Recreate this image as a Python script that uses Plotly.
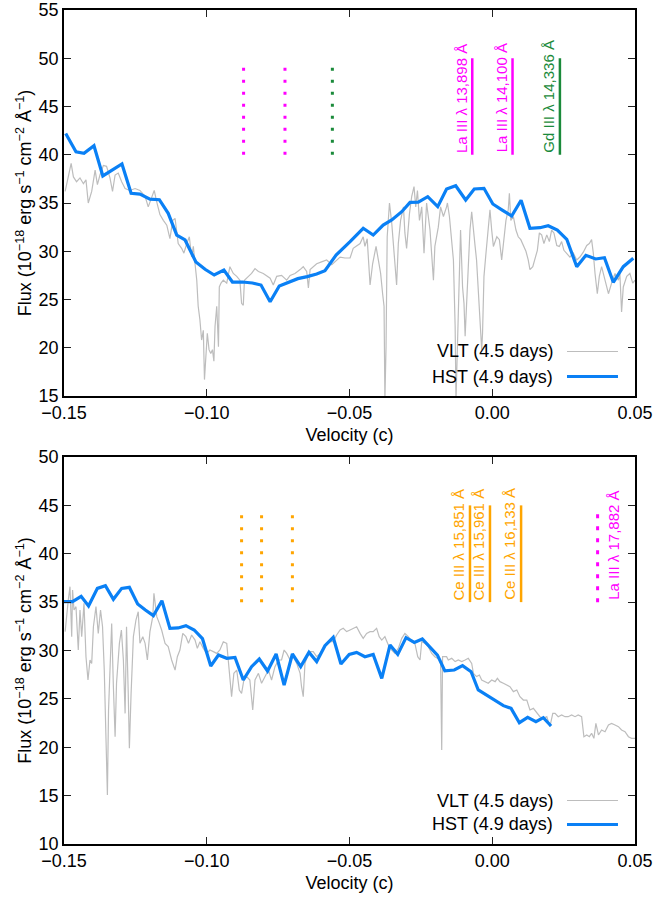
import plotly.graph_objects as go

# ---------------- Top panel data ----------------
vlt_top_v = [-0.1496,-0.1475,-0.1467,-0.1456,-0.1444,-0.1432,-0.1423,-0.1415,-0.1403,-0.1391,-0.1383,-0.1374,-0.1362,-0.1351,-0.1339,-0.1330,-0.1321,-0.1310,-0.1298,-0.1286,-0.1269,-0.1251,-0.1234,-0.1216,-0.1205,-0.1193,-0.1184,-0.1175,-0.1164,-0.1152,-0.1140,-0.1129,-0.1119,-0.1111,-0.1100,-0.1088,-0.1080,-0.1070,-0.1061,-0.1053,-0.1047,-0.1041,-0.1035,-0.1030,-0.1024,-0.1018,-0.1012,-0.1008,-0.1003,-0.0998,-0.0992,-0.0986,-0.0980,-0.0975,-0.0971,-0.0965,-0.0959,-0.0956,-0.0950,-0.0942,-0.0930,-0.0919,-0.0907,-0.0895,-0.0884,-0.0878,-0.0872,-0.0868,-0.0854,-0.0843,-0.0831,-0.0819,
             -0.0802,-0.0778,-0.0767,-0.0755,-0.0738,-0.0720,-0.0708,-0.0691,-0.0673,-0.0662,-0.0650,-0.0644,-0.0638,-0.0627,-0.0615,-0.0598,-0.0580,-0.0562,-0.0551,-0.0533,-0.0516,-0.0498,-0.0487,-0.0475,-0.0463,-0.0452,-0.0446,-0.0438,-0.0428,-0.0419,-0.0407,-0.0399,-0.0391,-0.0384,-0.0379,-0.0376,-0.0372,-0.0368,-0.0360,-0.0352,-0.0343,-0.0335,-0.0329,-0.0321,-0.0311,-0.0306,-0.0300,-0.0290,-0.0282,-0.0274,-0.0268,-0.0262,-0.0255,-0.0247,-0.0239,-0.0230,-0.0218,-0.0212,-0.0206,-0.0201,-0.0189,-0.0181,-0.0171,-0.0160,
             -0.0157,-0.0150,-0.0142,-0.0136,-0.0130,-0.0127,-0.0122,-0.0115,-0.0111,-0.0104,-0.0099,-0.0095,-0.0090,-0.0084,-0.0078,-0.0072,-0.0066,-0.0060,-0.0055,-0.0049,-0.0043,-0.0037,-0.0034,-0.0029,-0.0022,-0.0014,-0.0008,-0.0002,0.0004,0.0016,0.0025,0.0033,0.0039,0.0048,0.0056,0.0060,0.0065,0.0074,0.0083,0.0091,0.0100,0.0109,0.0118,0.0126,0.0132,0.0142,0.0150,0.0158,0.0165,0.0173,0.0181,0.0191,0.0200,0.0208,0.0216,0.0226,0.0235,0.0243,0.0251,0.0261,0.0272,0.0284,0.0296,0.0307,0.0319,0.0331,0.0340,0.0348,0.0354,0.0360,0.0368,0.0375,0.0383,0.0395,0.0407,0.0418,0.0430,0.0442,0.0447,0.0453,0.0459,0.0471,0.0482,0.0492,0.0500]
vlt_top_f = [36.2,39.1,37.7,37.2,37.6,37.0,37.4,35.0,36.2,38.4,36.9,37.9,38.9,38.8,37.6,36.2,37.9,38.1,37.2,36.5,36.3,36.5,36.3,35.7,34.6,35.7,36.3,35.1,33.8,33.2,32.7,31.3,33.2,33.4,30.8,30.3,29.8,30.8,31.5,29.4,30.5,28.7,27.0,24.3,22.9,20.8,21.8,16.7,19.4,21.5,19.8,19.4,19.8,18.6,22.2,24.3,20.1,26.3,26.7,27.0,26.7,28.4,27.7,27.4,27.0,24.6,24.4,27.0,27.4,27.7,28.2,27.9,
             27.7,27.2,26.5,27.4,27.5,27.0,27.5,27.7,28.1,28.4,27.9,26.2,28.1,28.4,28.7,28.9,29.1,28.6,28.9,29.4,29.3,29.3,30.3,30.6,30.8,31.5,30.5,31.3,26.5,28.7,30.5,29.1,27.7,25.6,24.3,14.6,20.1,31.5,35.0,32.9,29.1,26.5,30.8,33.2,34.6,31.9,30.3,33.9,35.7,36.7,34.6,36.3,33.2,34.6,29.8,35.0,32.2,29.1,27.0,30.5,32.5,34.6,33.6,34.6,
             35.0,33.6,30.5,29.1,22.2,14.6,20.1,29.8,32.2,26.3,24.6,21.2,24.3,29.1,32.2,34.1,31.9,30.5,29.1,26.3,22.9,19.8,21.5,27.4,29.8,32.2,34.3,32.2,30.5,31.5,31.2,29.1,30.8,33.2,34.3,36.0,33.2,33.6,32.2,31.5,31.2,30.5,30.0,29.1,28.1,28.4,29.4,30.1,31.9,31.7,30.8,31.7,31.0,32.2,31.9,30.6,30.5,31.0,30.1,29.8,29.4,29.8,29.1,29.4,29.9,30.6,30.8,31.2,29.8,27.7,25.6,27.4,28.4,27.0,25.6,26.7,27.7,27.0,27.7,23.7,26.3,27.4,27.7,26.7,27.0]

hst_top_v = [-0.1494,-0.1458,-0.1430,-0.1395,-0.1364,-0.1297,-0.1265,-0.1234,-0.1199,-0.1166,-0.1135,-0.1105,-0.1076,-0.1038,-0.1006,-0.0974,-0.0940,-0.0910,-0.0875,-0.0840,-0.0810,-0.0778,-0.0746,-0.0714,-0.0681,-0.0648,-0.0615,-0.0586,-0.0547,-0.0498,-0.0452,-0.0417,-0.0382,-0.0352,-0.0317,-0.0288,-0.0259,-0.0226,-0.0191,-0.0160,-0.0128,-0.0093,-0.0063,-0.0029,0.0002,0.0035,0.0068,0.0101,0.0132,0.0167,0.0196,0.0228,0.0261,0.0296,0.0328,0.0362,0.0393,0.0424,0.0459,0.0494]
hst_top_f = [42.2,40.3,40.15,40.94,37.8,39.04,36.0,35.93,35.4,35.34,33.93,31.68,31.17,28.89,28.13,27.54,28.06,26.81,26.81,26.71,26.5,24.77,26.4,26.74,27.16,27.37,27.64,27.98,29.6,30.99,32.38,31.68,32.72,33.24,34.1,35.07,35.1,35.65,34.62,36.45,36.79,35.31,36.45,36.52,34.9,34.27,33.65,35.28,32.38,32.44,32.65,32.2,31.24,28.4,29.58,29.2,29.33,26.78,28.4,29.27]

top_line_labels = ["La III λ 13,898 Å", "La III λ 14,100 Å", "Gd III λ 14,336 Å"]
top_line_v = [-0.0070, 0.0071, 0.0237]
top_line_abs_v = [-0.0871, -0.0726, -0.0560]
top_line_colors = ["#ff00ff", "#ff00ff", "#1a8a3a"]
top_line_range = [40, 50]
top_dot_range = [40, 49.5]

# ---------------- Bottom panel data ----------------
vlt_bot_v = [-0.1496,-0.1491,-0.1485,-0.1479,-0.1473,-0.1470,-0.1465,-0.1458,-0.1450,-0.1444,-0.1438,-0.1430,-0.1423,-0.1416,-0.1409,-0.1403,-0.1397,-0.1388,-0.1380,-0.1372,-0.1365,-0.1359,-0.1353,-0.1348,-0.1344,-0.1339,-0.1333,-0.1327,-0.1321,-0.1316,-0.1306,-0.1299,-0.1292,-0.1286,-0.1281,-0.1275,-0.1271,-0.1265,-0.1257,-0.1248,-0.1240,-0.1234,-0.1224,-0.1216,-0.1208,-0.1199,-0.1189,-0.1185,-0.1175,-0.1166,-0.1158,-0.1146,-0.1135,-0.1123,-0.1111,-0.1103,-0.1094,-0.1084,-0.1073,-0.1064,-0.1053,-0.1041,-0.1033,-0.1024,-0.1012,-0.1000,-0.0989,-0.0977,-0.0965,-0.0954,-0.0942,-0.0930,-0.0921,-0.0913,-0.0905,-0.0895,-0.0886,-0.0878,-0.0870,-0.0860,-0.0849,-0.0839,-0.0831,
             -0.0819,-0.0808,-0.0796,-0.0784,-0.0773,-0.0761,-0.0749,-0.0738,-0.0729,-0.0720,-0.0708,-0.0697,-0.0685,-0.0673,-0.0668,-0.0662,-0.0656,-0.0648,-0.0638,-0.0627,-0.0615,-0.0603,-0.0592,-0.0580,-0.0568,-0.0557,-0.0545,-0.0533,-0.0522,-0.0510,-0.0498,-0.0487,-0.0475,-0.0463,-0.0452,-0.0440,-0.0428,-0.0417,-0.0405,-0.0396,-0.0387,-0.0376,-0.0364,-0.0352,-0.0341,-0.0329,-0.0317,-0.0306,-0.0294,-0.0282,-0.0271,-0.0261,-0.0253,-0.0247,-0.0236,-0.0224,-0.0212,-0.0201,-0.0189,-0.0181,-0.0177,-0.0174,-0.0160,
             -0.0154,-0.0142,-0.0130,-0.0119,-0.0107,-0.0095,-0.0084,-0.0072,-0.0066,-0.0055,-0.0045,-0.0037,-0.0025,-0.0014,-0.0002,0.0010,0.0018,0.0027,0.0039,0.0050,0.0062,0.0074,0.0086,0.0097,0.0109,0.0121,0.0132,0.0144,0.0156,0.0167,0.0179,0.0191,0.0202,0.0212,0.0220,0.0231,0.0243,0.0255,0.0266,0.0278,0.0290,0.0301,0.0313,0.0321,0.0331,0.0340,0.0348,0.0356,0.0363,0.0372,0.0383,0.0395,0.0407,0.0418,0.0430,0.0442,0.0453,0.0465,0.0477,0.0488,0.0500]
vlt_bot_f = [31.95,33.84,35.22,36.6,31.43,36.25,34.19,34.53,30.05,34.19,31.43,34.87,29.36,26.95,29.02,28.67,32.46,34.53,31.77,34.19,32.46,27.98,22.13,15.07,23.85,27.98,32.8,26.26,21.09,26.61,30.74,32.12,29.02,23.5,32.46,25.57,19.89,25.57,31.43,33.15,34.01,30.74,31.43,30.74,29.02,31.95,33.5,35.91,33.5,32.8,32.12,30.74,30.4,29.02,27.98,29.36,30.05,31.77,31.43,30.74,31.6,31.08,30.22,30.91,30.22,29.7,30.05,29.88,29.7,30.05,30.91,30.74,27.98,25.23,27.64,27.98,25.92,25.57,26.95,27.3,26.95,23.85,26.95,
             27.64,26.61,27.3,27.98,26.95,28.33,29.02,29.02,30.05,29.7,29.02,29.36,28.67,27.64,26.26,25.23,28.67,29.36,29.88,29.88,29.36,29.7,30.22,30.74,30.91,30.91,31.6,32.12,32.29,31.95,32.12,32.29,32.46,31.77,31.26,31.77,31.95,31.95,32.29,31.43,31.08,31.43,30.57,30.05,29.7,30.22,31.26,31.77,31.43,30.91,30.74,29.36,29.02,30.91,30.74,30.4,29.7,29.36,29.19,29.02,19.72,29.36,29.36,
             29.02,29.19,28.85,29.02,28.85,29.02,29.19,28.67,27.64,27.3,27.47,26.95,26.78,26.61,26.95,26.78,27.12,26.78,26.61,26.43,26.26,25.75,25.92,25.23,24.88,24.88,23.85,24.02,23.5,23.16,22.99,23.16,22.13,23.5,23.5,23.16,23.33,23.16,23.16,23.33,23.16,23.33,23.16,21.09,21.27,21.09,21.44,20.92,22.47,21.27,21.78,21.61,22.3,22.47,22.3,22.13,21.78,21.61,21.09,20.92,20.92]

hst_bot_v = [-0.1500,-0.1470,-0.1440,-0.1414,-0.1383,-0.1355,-0.1327,-0.1298,-0.1271,-0.1242,-0.1215,-0.1187,-0.1157,-0.1129,-0.1100,-0.1073,-0.1044,-0.1015,-0.0986,-0.0959,-0.0930,-0.0901,-0.0872,-0.0843,-0.0816,-0.0787,-0.0757,-0.0729,-0.0700,-0.0671,-0.0642,-0.0615,-0.0586,-0.0557,-0.0530,-0.0501,-0.0475,-0.0446,-0.0417,-0.0387,-0.0358,-0.0331,-0.0302,-0.0273,-0.0245,-0.0218,-0.0192,-0.0166,-0.0133,-0.0104,-0.0074,-0.0049,-0.0020,0.0010,0.0039,0.0066,0.0095,0.0124,0.0153,0.0179,0.0206]
hst_bot_f = [35.05,35.05,35.6,34.6,36.42,36.7,35.29,36.42,36.53,34.81,34.19,33.6,35.15,32.29,32.33,32.57,32.12,31.22,28.4,29.53,29.19,29.29,26.95,28.33,29.12,27.88,29.64,26.43,29.64,28.33,29.81,28.85,30.5,31.36,28.6,29.6,29.81,29.36,29.6,27.12,30.57,29.6,31.33,30.84,31.19,30.4,29.53,27.9,27.98,28.43,27.81,25.92,25.4,24.88,24.3,24.02,22.54,23.09,22.64,23.06,22.2]

bot_line_labels = ["Ce III λ 15,851 Å", "Ce III λ 15,961 Å", "Ce III λ 16,133 Å"]
bot_line_v = [-0.0078, -0.0008, 0.0101]
bot_line_abs_v = [-0.0878, -0.0808, -0.0700]
bot_line_color = "#ffa500"
bot_extra_label = "La III λ 17,882 Å"
bot_extra_abs_v = [0.0369]
bot_extra_color = "#ff00ff"
bot_line_range = [35, 45]
bot_dot_range = [35, 44.5]

legend_labels = ["VLT (4.5 days)", "HST (4.9 days)"]
VLT_COLOR = "#bdbdbd"
HST_COLOR = "#0a80f5"
FONT = "Liberation Sans, Arial, Helvetica, sans-serif"

fig = go.Figure()

def add_panel(xa, ya, vv, vf, hv, hf):
    fig.add_trace(go.Scatter(x=vv, y=vf, mode="lines", xaxis=xa, yaxis=ya,
                             line=dict(color=VLT_COLOR, width=1.2), showlegend=False,
                             name=legend_labels[0]))
    fig.add_trace(go.Scatter(x=hv, y=hf, mode="lines", xaxis=xa, yaxis=ya,
                             line=dict(color=HST_COLOR, width=3.2), showlegend=False,
                             name=legend_labels[1]))

add_panel("x", "y", vlt_top_v, vlt_top_f, hst_top_v, hst_top_f)
add_panel("x2", "y2", vlt_bot_v, vlt_bot_f, hst_bot_v, hst_bot_f)

annotations = []

# Top panel line markers
for lab, v, va, c in zip(top_line_labels, top_line_v, top_line_abs_v, top_line_colors):
    fig.add_trace(go.Scatter(x=[v, v], y=top_line_range, mode="lines", xaxis="x", yaxis="y",
                             line=dict(color=c, width=2.5), showlegend=False, hoverinfo="skip"))
    fig.add_trace(go.Scatter(x=[va, va], y=top_dot_range, mode="lines", xaxis="x", yaxis="y",
                             line=dict(color=c, width=3, dash="3px,9px"), showlegend=False, hoverinfo="skip"))
    annotations.append(dict(x=v, y=top_line_range[0], xref="x", yref="y", text=lab, textangle=-90,
                            xanchor="right", yanchor="bottom", showarrow=False, xshift=-1,
                            font=dict(size=15, color=c, family=FONT)))

# Bottom panel line markers
for lab, v, va in zip(bot_line_labels, bot_line_v, bot_line_abs_v):
    fig.add_trace(go.Scatter(x=[v, v], y=bot_line_range, mode="lines", xaxis="x2", yaxis="y2",
                             line=dict(color=bot_line_color, width=2.5), showlegend=False, hoverinfo="skip"))
    fig.add_trace(go.Scatter(x=[va, va], y=bot_dot_range, mode="lines", xaxis="x2", yaxis="y2",
                             line=dict(color=bot_line_color, width=3, dash="3px,9px"), showlegend=False, hoverinfo="skip"))
    annotations.append(dict(x=v, y=bot_line_range[0], xref="x2", yref="y2", text=lab, textangle=-90,
                            xanchor="right", yanchor="bottom", showarrow=False, xshift=-1,
                            font=dict(size=15, color=bot_line_color, family=FONT)))

for va in bot_extra_abs_v:
    fig.add_trace(go.Scatter(x=[va, va], y=bot_dot_range, mode="lines", xaxis="x2", yaxis="y2",
                             line=dict(color=bot_extra_color, width=3, dash="4px,8px"), showlegend=False, hoverinfo="skip"))
    annotations.append(dict(x=va, y=bot_line_range[0], xref="x2", yref="y2", text=bot_extra_label, textangle=-90,
                            xanchor="left", yanchor="bottom", showarrow=False, xshift=6,
                            font=dict(size=15, color=bot_extra_color, family=FONT)))

# Manual legends (text left, key line right)
shapes = []
for xr, yr, yv, yh in [("x domain", "y domain", 0.1153, 0.0505), ("x2 domain", "y2 domain", 0.1124, 0.0504)]:
    for lab, yy, col, w in [(legend_labels[0], yv, VLT_COLOR, 1.2), (legend_labels[1], yh, HST_COLOR, 3.2)]:
        annotations.append(dict(x=0.8599, y=yy, xref=xr, yref=yr, text=lab, showarrow=False,
                                xanchor="right", yanchor="middle", font=dict(size=18, color="black", family=FONT)))
        shapes.append(dict(type="line", xref=xr, yref=yr, x0=0.8809, x1=0.9702, y0=yy, y1=yy,
                           line=dict(color=col, width=w)))

ytitle = "Flux (10<sup>−18</sup> erg s<sup>−1</sup> cm<sup>−2</sup> Å<sup>−1</sup>)"
common_axis = dict(showline=True, linecolor="black", linewidth=1.5, mirror="allticks",
                   ticks="inside", ticklen=7, tickwidth=1, tickcolor="#222",
                   showgrid=False, zeroline=False, automargin=False,
                   tickfont=dict(size=18, color="black", family=FONT))

xcommon = dict(common_axis, range=[-0.15, 0.05], tick0=-0.15, dtick=0.05, tickformat=".2f",
               title=dict(text="Velocity (c)", font=dict(size=18, color="black", family=FONT), standoff=6))

fig.update_layout(
    width=654, height=900, autosize=False,
    margin=dict(l=64, r=19, t=10, b=56),
    paper_bgcolor="white", plot_bgcolor="white",
    font=dict(family=FONT, size=18, color="black"),
    xaxis=dict(xcommon, domain=[0, 1], anchor="y"),
    yaxis=dict(common_axis, domain=[0.53717, 1], range=[15, 55], dtick=5, anchor="x",
               title=dict(text=ytitle, font=dict(size=18, color="black", family=FONT), standoff=2)),
    xaxis2=dict(xcommon, domain=[0, 1], anchor="y2"),
    yaxis2=dict(common_axis, domain=[0, 0.46403], range=[10, 50], dtick=5, anchor="x2",
                title=dict(text=ytitle, font=dict(size=18, color="black", family=FONT), standoff=2)),
    annotations=annotations,
    shapes=shapes,
    showlegend=False,
)

fig.write_html("out.html")
